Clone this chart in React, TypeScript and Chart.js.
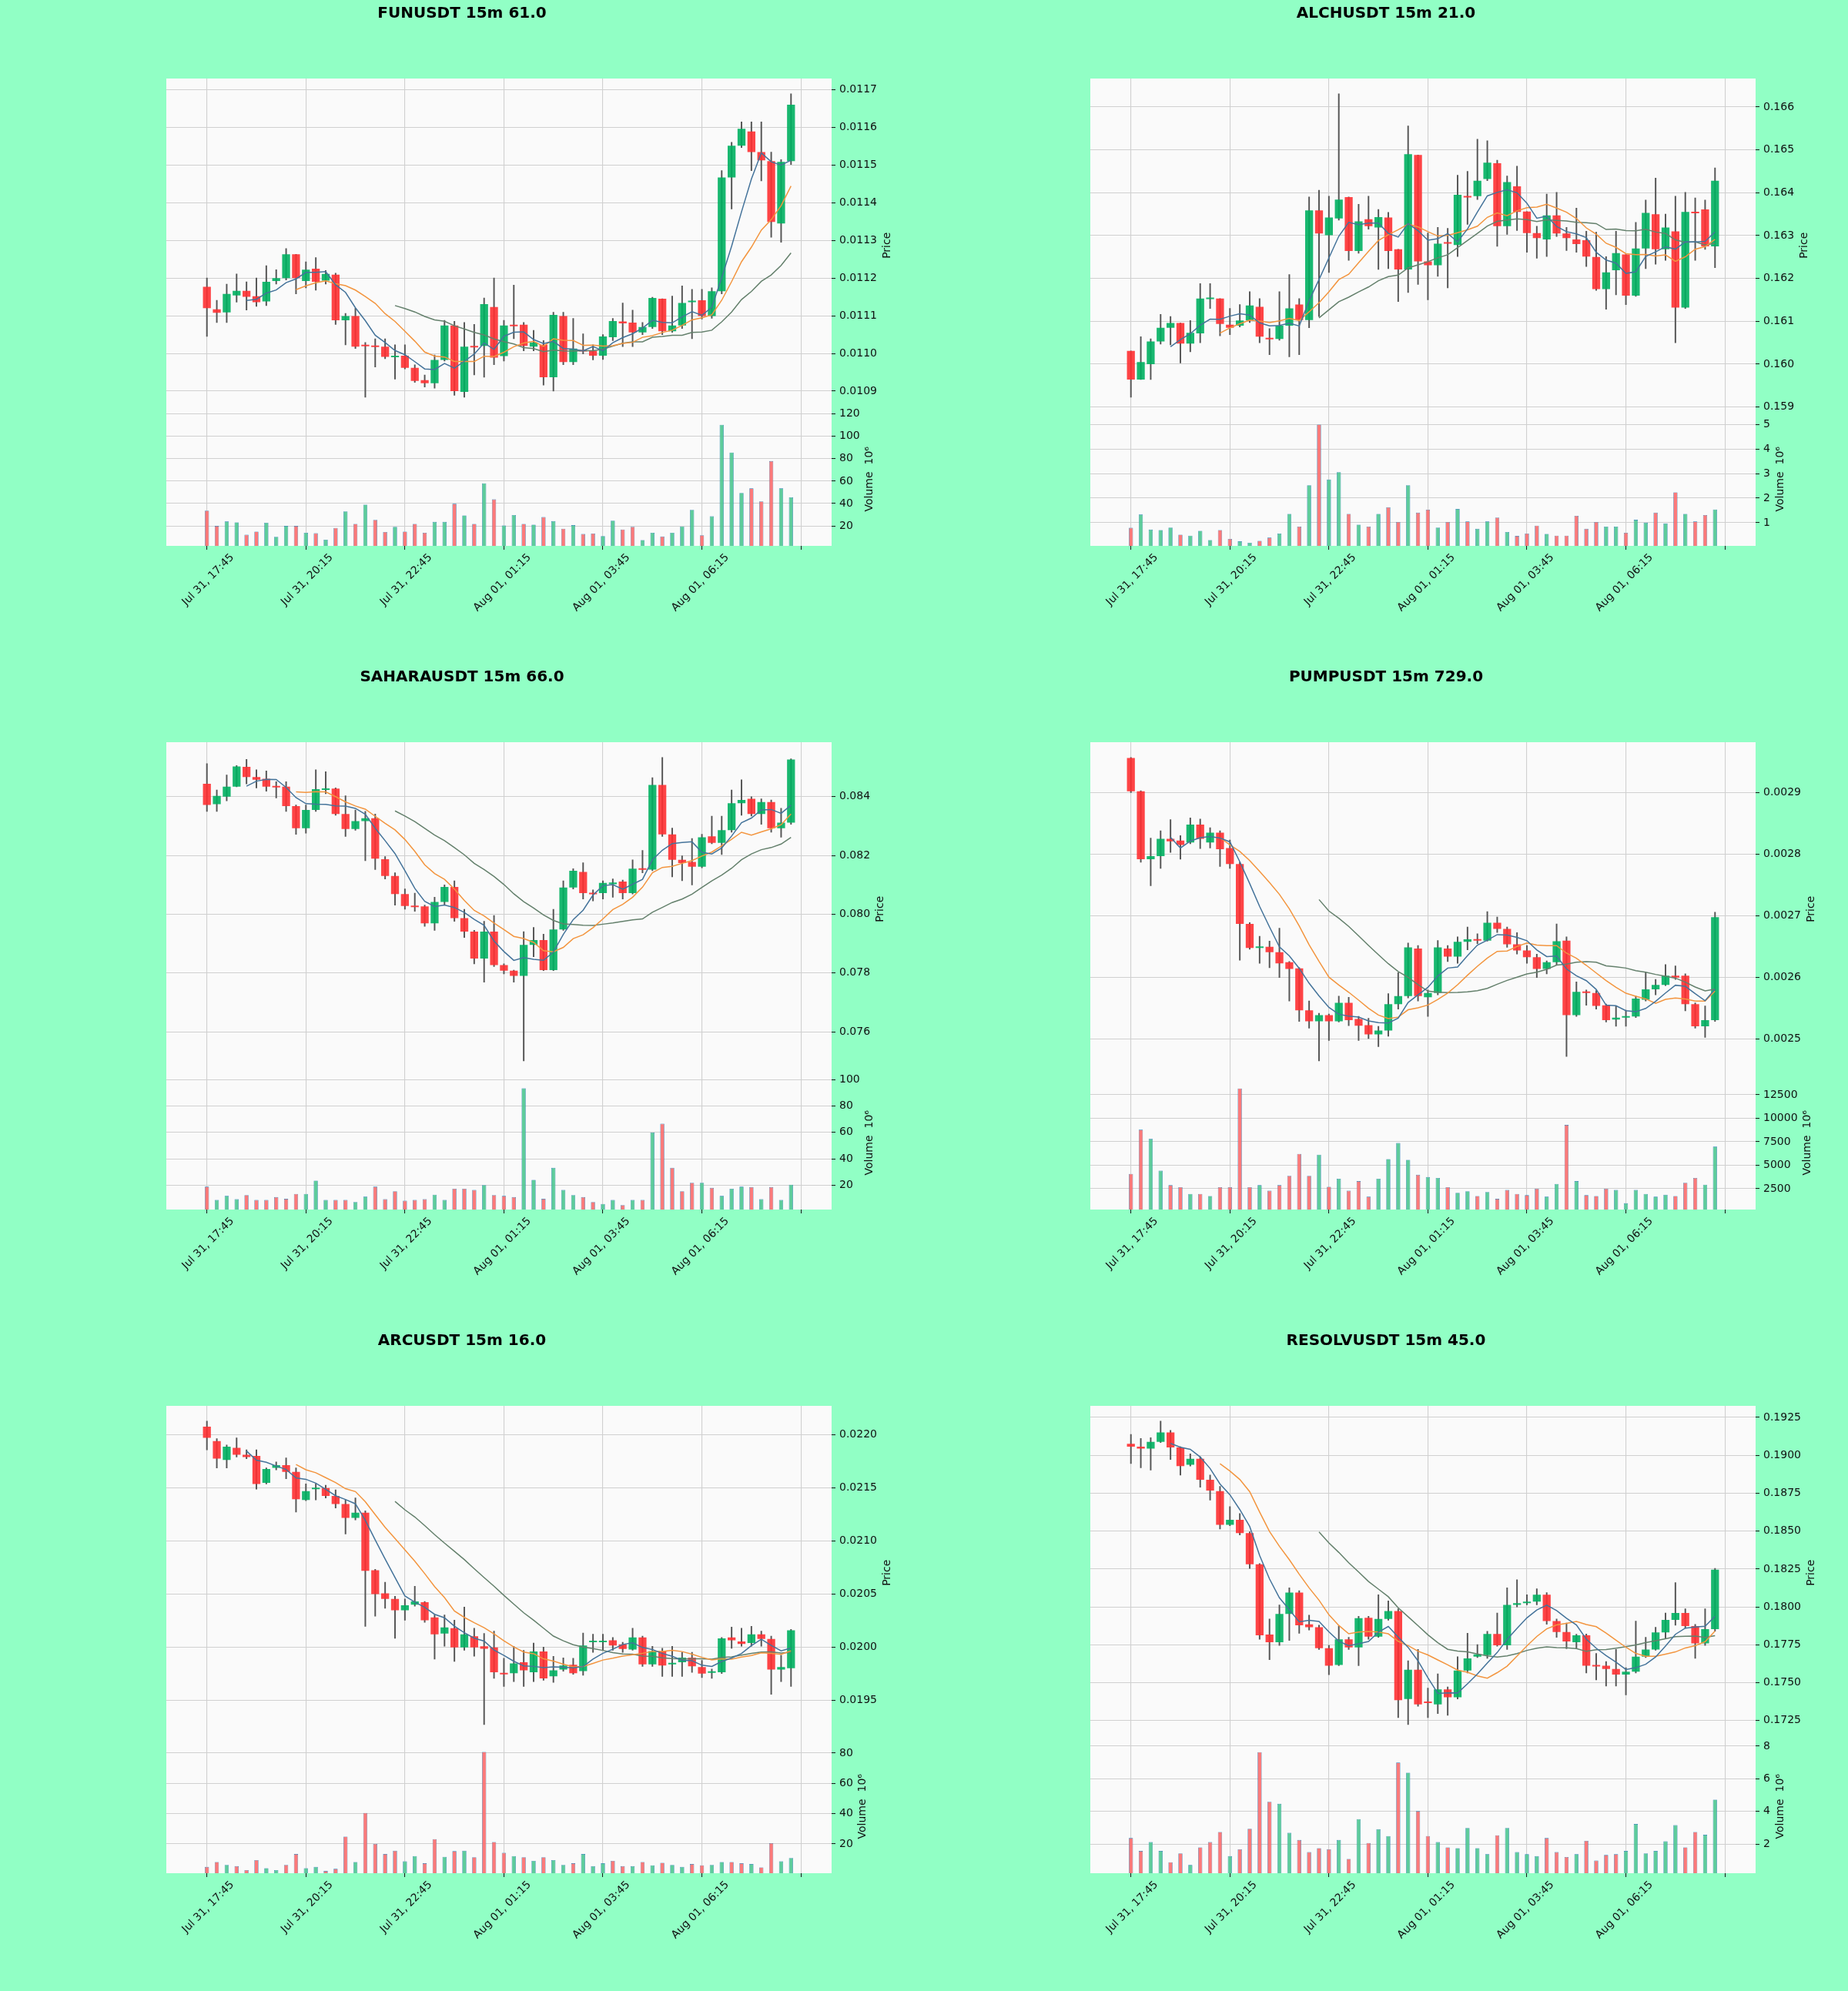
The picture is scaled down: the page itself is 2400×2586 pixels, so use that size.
import React, { useEffect, useRef } from 'react';
import { Chart, registerables } from 'chart.js';

Chart.register(...registerables);

// ---------------- data ----------------
const X_TICK_LABELS = ['Jul 31, 17:45', 'Jul 31, 20:15', 'Jul 31, 22:45', 'Aug 01, 01:15', 'Aug 01, 03:45', 'Aug 01, 06:15'];

// candles: [open, high, low, close]
const FUN_OHLC = [
  [0.011177, 0.011200, 0.011045, 0.011120], [0.011117, 0.011141, 0.011082, 0.011108], [0.011109, 0.011184, 0.011082, 0.011158],
  [0.011154, 0.011211, 0.011136, 0.011166], [0.011166, 0.011190, 0.011115, 0.011150], [0.011152, 0.011200, 0.011125, 0.011136],
  [0.011138, 0.011233, 0.011127, 0.011190], [0.011192, 0.011222, 0.011184, 0.011200], [0.011200, 0.011278, 0.011195, 0.011263],
  [0.011263, 0.011263, 0.011158, 0.011200], [0.011192, 0.011243, 0.011174, 0.011222], [0.011225, 0.011254, 0.011168, 0.011190],
  [0.011193, 0.011220, 0.011184, 0.011211], [0.011209, 0.011213, 0.011077, 0.011088], [0.011088, 0.011106, 0.011023, 0.011099],
  [0.011099, 0.011120, 0.011013, 0.011018], [0.011023, 0.011029, 0.010884, 0.011019], [0.011021, 0.011039, 0.010964, 0.011017],
  [0.011018, 0.011039, 0.010986, 0.010991], [0.010990, 0.011023, 0.010932, 0.010994], [0.010994, 0.011023, 0.010959, 0.010962],
  [0.010962, 0.010970, 0.010923, 0.010927], [0.010929, 0.010943, 0.010911, 0.010921], [0.010921, 0.010996, 0.010908, 0.010983],
  [0.010983, 0.011088, 0.010980, 0.011074], [0.011074, 0.011085, 0.010889, 0.010900], [0.010898, 0.011082, 0.010884, 0.011018],
  [0.011020, 0.011077, 0.010943, 0.011016], [0.011020, 0.011147, 0.010937, 0.011131], [0.011123, 0.011200, 0.010970, 0.010989],
  [0.010993, 0.011088, 0.010980, 0.011074], [0.011076, 0.011181, 0.011039, 0.011072], [0.011076, 0.011082, 0.011007, 0.011020],
  [0.011018, 0.011061, 0.011007, 0.011029], [0.011023, 0.011034, 0.010916, 0.010937], [0.010937, 0.011109, 0.010900, 0.011102],
  [0.011099, 0.011109, 0.010970, 0.010977], [0.010977, 0.011093, 0.010970, 0.011013], [0.011009, 0.011052, 0.010999, 0.011005],
  [0.011007, 0.011023, 0.010983, 0.010994], [0.010994, 0.011050, 0.010984, 0.011045], [0.011043, 0.011093, 0.011034, 0.011086],
  [0.011085, 0.011134, 0.011018, 0.011080], [0.011082, 0.011115, 0.011018, 0.011056], [0.011056, 0.011082, 0.011050, 0.011070],
  [0.011070, 0.011149, 0.011066, 0.011147], [0.011145, 0.011145, 0.011050, 0.011059], [0.011059, 0.011152, 0.011056, 0.011074],
  [0.011074, 0.011179, 0.011066, 0.011134], [0.011136, 0.011170, 0.011039, 0.011140], [0.011141, 0.011170, 0.011091, 0.011099],
  [0.011099, 0.011174, 0.011093, 0.011165], [0.011165, 0.011485, 0.011158, 0.011467], [0.011467, 0.011560, 0.011383, 0.011551],
  [0.011551, 0.011614, 0.011546, 0.011596], [0.011589, 0.011614, 0.011485, 0.011534], [0.011534, 0.011614, 0.011458, 0.011512],
  [0.011510, 0.011534, 0.011308, 0.011349], [0.011345, 0.011514, 0.011295, 0.011508], [0.011510, 0.011689, 0.011501, 0.011660],
];
const FUN_VOLUME = [33.7, 20, 24, 23.2, 12.1, 15, 22.9, 10.3, 20, 20, 13.9, 13.5, 7.8, 18.2, 33, 21.8, 39, 25.4, 14.6, 19.3,
  15, 21.8, 13.9, 23.6, 23.6, 39.8, 29.4, 21.8, 58.1, 43.7, 20.4, 29.7, 21.8, 21.1, 27.9, 24.3, 17.5, 20.7, 12.8, 13.2,
  11, 24.7, 16.8, 19.3, 7.4, 13.9, 10.6, 13.9, 19.6, 34.4, 11.7, 28.6, 110.3, 85.5, 49.5, 53.5, 41.9, 77.9, 53.5, 45.5];
const FUN_VOL_DIR = 'rrggrrgggr' + 'grgrgrgrrg' + 'rrrggrgrgr' + 'ggrgrgrgrr' + 'ggrrggrggg' + 'rggggrrrgg';

const ALCH_OHLC = [
  [0.16031, 0.16031, 0.15923, 0.15964], [0.15964, 0.16064, 0.15964, 0.16005], [0.16000, 0.16059, 0.15964, 0.16053],
  [0.16053, 0.16116, 0.16047, 0.16085], [0.16085, 0.16111, 0.16045, 0.16096], [0.16096, 0.16096, 0.16003, 0.16048],
  [0.16048, 0.16102, 0.16029, 0.16073], [0.16072, 0.16188, 0.16050, 0.16153], [0.16152, 0.16188, 0.16130, 0.16155],
  [0.16153, 0.16153, 0.16066, 0.16094], [0.16092, 0.16130, 0.16069, 0.16085], [0.16090, 0.16139, 0.16087, 0.16102],
  [0.16102, 0.16169, 0.16097, 0.16137], [0.16134, 0.16153, 0.16050, 0.16064], [0.16061, 0.16083, 0.16022, 0.16058],
  [0.16059, 0.16169, 0.16056, 0.16090], [0.16090, 0.16209, 0.16017, 0.16130], [0.16139, 0.16153, 0.16022, 0.16103],
  [0.16103, 0.16390, 0.16085, 0.16359], [0.16359, 0.16406, 0.16111, 0.16305], [0.16301, 0.16392, 0.16214, 0.16342],
  [0.16340, 0.16631, 0.16336, 0.16384], [0.16390, 0.16390, 0.16242, 0.16264], [0.16264, 0.16373, 0.16259, 0.16333],
  [0.16338, 0.16392, 0.16315, 0.16322], [0.16319, 0.16361, 0.16221, 0.16343], [0.16342, 0.16354, 0.16223, 0.16264],
  [0.16268, 0.16268, 0.16146, 0.16221], [0.16221, 0.16556, 0.16167, 0.16490], [0.16488, 0.16488, 0.16186, 0.16240],
  [0.16240, 0.16306, 0.16150, 0.16231], [0.16231, 0.16319, 0.16205, 0.16281], [0.16283, 0.16317, 0.16178, 0.16281],
  [0.16278, 0.16441, 0.16251, 0.16395], [0.16392, 0.16450, 0.16326, 0.16389], [0.16392, 0.16525, 0.16384, 0.16428],
  [0.16432, 0.16521, 0.16428, 0.16470], [0.16469, 0.16476, 0.16275, 0.16322], [0.16322, 0.16439, 0.16303, 0.16425],
  [0.16415, 0.16462, 0.16312, 0.16355], [0.16356, 0.16356, 0.16261, 0.16306], [0.16306, 0.16322, 0.16247, 0.16294],
  [0.16291, 0.16397, 0.16251, 0.16347], [0.16347, 0.16401, 0.16298, 0.16305], [0.16305, 0.16319, 0.16265, 0.16294],
  [0.16291, 0.16364, 0.16261, 0.16280], [0.16289, 0.16310, 0.16228, 0.16251], [0.16250, 0.16308, 0.16172, 0.16175],
  [0.16175, 0.16251, 0.16128, 0.16214], [0.16219, 0.16310, 0.16162, 0.16259], [0.16256, 0.16256, 0.16139, 0.16160],
  [0.16160, 0.16331, 0.16158, 0.16270], [0.16270, 0.16383, 0.16223, 0.16353], [0.16350, 0.16434, 0.16233, 0.16268],
  [0.16268, 0.16350, 0.16242, 0.16319], [0.16310, 0.16392, 0.16050, 0.16132], [0.16132, 0.16401, 0.16130, 0.16355],
  [0.16355, 0.16388, 0.16242, 0.16352], [0.16361, 0.16383, 0.16268, 0.16275], [0.16275, 0.16458, 0.16225, 0.16428],
];
const ALCH_VOLUME = [0.79, 1.33, 0.72, 0.70, 0.80, 0.51, 0.47, 0.67, 0.29, 0.70, 0.34, 0.24, 0.18, 0.26, 0.39, 0.56, 1.36, 0.84, 2.53, 5.0,
  2.76, 3.06, 1.36, 0.92, 0.84, 1.36, 1.63, 1.03, 2.53, 1.41, 1.53, 0.80, 1.03, 1.56, 1.05, 0.75, 1.05, 1.21, 0.62, 0.46,
  0.56, 0.88, 0.54, 0.47, 0.47, 1.28, 0.75, 1.03, 0.84, 0.84, 0.59, 1.12, 1.0, 1.41, 0.97, 2.24, 1.36, 1.05, 1.31, 1.54];
const ALCH_VOL_DIR = 'rggggrgggr' + 'rggrrggrgr' + 'ggrgrgrrgr' + 'rgrgrggrgr' + 'rrgrrrrrgg' + 'rggrgrgrrg';

const SAHARA_OHLC = [
  [0.08444, 0.08513, 0.08350, 0.08372], [0.08375, 0.08423, 0.08350, 0.08403], [0.08400, 0.08474, 0.08386, 0.08434],
  [0.08434, 0.08506, 0.08434, 0.08503], [0.08502, 0.08527, 0.08444, 0.08467], [0.08467, 0.08492, 0.08430, 0.08458],
  [0.08461, 0.08488, 0.08419, 0.08434], [0.08436, 0.08451, 0.08396, 0.08432], [0.08434, 0.08451, 0.08350, 0.08368],
  [0.08368, 0.08372, 0.08272, 0.08293], [0.08293, 0.08372, 0.08276, 0.08355], [0.08355, 0.08492, 0.08350, 0.08426],
  [0.08423, 0.08485, 0.08410, 0.08428], [0.08428, 0.08430, 0.08337, 0.08341], [0.08341, 0.08403, 0.08265, 0.08290],
  [0.08290, 0.08355, 0.08286, 0.08317], [0.08317, 0.08350, 0.08182, 0.08327], [0.08327, 0.08341, 0.08152, 0.08189],
  [0.08187, 0.08196, 0.08120, 0.08130], [0.08130, 0.08141, 0.08031, 0.08069], [0.08069, 0.08086, 0.08017, 0.08028],
  [0.08028, 0.08072, 0.08010, 0.08024], [0.08027, 0.08031, 0.07959, 0.07969], [0.07969, 0.08058, 0.07945, 0.08042],
  [0.08042, 0.08100, 0.08031, 0.08093], [0.08093, 0.08114, 0.07976, 0.07987], [0.07987, 0.08017, 0.07921, 0.07941],
  [0.07941, 0.07945, 0.07831, 0.07849], [0.07849, 0.07976, 0.07769, 0.07941], [0.07941, 0.07996, 0.07822, 0.07827],
  [0.07827, 0.07831, 0.07797, 0.07808], [0.07808, 0.07810, 0.07769, 0.07790], [0.07790, 0.07941, 0.07501, 0.07896],
  [0.07896, 0.07955, 0.07855, 0.07912], [0.07912, 0.07932, 0.07808, 0.07810], [0.07810, 0.08017, 0.07808, 0.07948],
  [0.07948, 0.08114, 0.07945, 0.08091], [0.08091, 0.08155, 0.08086, 0.08148], [0.08144, 0.08175, 0.08052, 0.08072],
  [0.08072, 0.08083, 0.08045, 0.08068], [0.08072, 0.08114, 0.08052, 0.08107], [0.08102, 0.08120, 0.08058, 0.08108],
  [0.08111, 0.08116, 0.08052, 0.08072], [0.08072, 0.08185, 0.08069, 0.08155], [0.08155, 0.08217, 0.08141, 0.08151],
  [0.08152, 0.08465, 0.08148, 0.08440], [0.08440, 0.08534, 0.08265, 0.08272], [0.08272, 0.08293, 0.08127, 0.08185],
  [0.08185, 0.08199, 0.08114, 0.08174], [0.08178, 0.08258, 0.08100, 0.08162], [0.08162, 0.08272, 0.08158, 0.08262],
  [0.08265, 0.08334, 0.08240, 0.08243], [0.08243, 0.08334, 0.08203, 0.08286], [0.08286, 0.08423, 0.08279, 0.08378],
  [0.08378, 0.08458, 0.08337, 0.08389], [0.08393, 0.08400, 0.08334, 0.08341], [0.08341, 0.08393, 0.08306, 0.08382],
  [0.08382, 0.08389, 0.08279, 0.08293], [0.08293, 0.08361, 0.08262, 0.08312], [0.08312, 0.08529, 0.08306, 0.08527],
];
const SAHARA_VOLUME = [18.8, 8.7, 11.8, 9.3, 12.4, 8.7, 8.7, 10.9, 9.6, 13.3, 13.3, 23.4, 8.7, 8.7, 8.7, 7.2, 11.2, 18.8, 9.3, 15.4,
  8.1, 8.7, 9.3, 12.7, 8.7, 17.3, 17.3, 16.3, 20, 12.4, 11.8, 10.9, 93.5, 24, 9.6, 33.1, 16.3, 12.4, 10.9, 7.2,
  5.7, 8.7, 4.8, 8.7, 8.7, 59.9, 66.6, 33.1, 15.4, 21.8, 21.8, 17.9, 11.8, 17.3, 18.8, 18.5, 9.3, 18.5, 8.7, 20.3];
const SAHARA_VOL_DIR = 'rgggrrrrrr' + 'gggrrggrrr' + 'rrrggrrrgr' + 'rrggrgggrr' + 'ggrgrgrrrr' + 'grgggrgrgg';

const PUMP_OHLC = [
  [0.002956, 0.002957, 0.002900, 0.002902], [0.002902, 0.002903, 0.002787, 0.002792], [0.002792, 0.002826, 0.002749, 0.002797],
  [0.002797, 0.002838, 0.002777, 0.002825], [0.002825, 0.002856, 0.002803, 0.002821], [0.002822, 0.002830, 0.002792, 0.002815],
  [0.002819, 0.002859, 0.002817, 0.002848], [0.002848, 0.002857, 0.002809, 0.002825], [0.002819, 0.002843, 0.002810, 0.002835],
  [0.002835, 0.002838, 0.002780, 0.002808], [0.002810, 0.002823, 0.002777, 0.002784], [0.002784, 0.002787, 0.002628, 0.002687],
  [0.002687, 0.002689, 0.002646, 0.002648], [0.002648, 0.002667, 0.002623, 0.002650], [0.002650, 0.002659, 0.002616, 0.002641],
  [0.002641, 0.002680, 0.002600, 0.002623], [0.002625, 0.002626, 0.002562, 0.002614], [0.002615, 0.002616, 0.002529, 0.002547],
  [0.002547, 0.002562, 0.002518, 0.002529], [0.002529, 0.002542, 0.002465, 0.002539], [0.002539, 0.002541, 0.002498, 0.002529],
  [0.002529, 0.002570, 0.002528, 0.002559], [0.002559, 0.002568, 0.002522, 0.002531], [0.002533, 0.002537, 0.002498, 0.002522],
  [0.002523, 0.002534, 0.002501, 0.002508], [0.002508, 0.002521, 0.002488, 0.002514], [0.002514, 0.002574, 0.002505, 0.002557],
  [0.002557, 0.002608, 0.002549, 0.002570], [0.002570, 0.002656, 0.002567, 0.002649], [0.002647, 0.002652, 0.002562, 0.002570],
  [0.002568, 0.002580, 0.002537, 0.002575], [0.002575, 0.002660, 0.002572, 0.002649], [0.002647, 0.002652, 0.002626, 0.002634],
  [0.002634, 0.002666, 0.002623, 0.002658], [0.002658, 0.002682, 0.002645, 0.002662], [0.002662, 0.002671, 0.002655, 0.002660],
  [0.002660, 0.002707, 0.002659, 0.002689], [0.002689, 0.002698, 0.002673, 0.002679], [0.002679, 0.002682, 0.002649, 0.002654],
  [0.002654, 0.002673, 0.002638, 0.002644], [0.002644, 0.002652, 0.002623, 0.002633], [0.002633, 0.002638, 0.002600, 0.002614],
  [0.002614, 0.002627, 0.002606, 0.002625], [0.002625, 0.002687, 0.002620, 0.002659], [0.002660, 0.002666, 0.002472, 0.002539],
  [0.002539, 0.002593, 0.002537, 0.002577], [0.002577, 0.002580, 0.002555, 0.002575], [0.002575, 0.002579, 0.002549, 0.002554],
  [0.002555, 0.002557, 0.002528, 0.002531], [0.002532, 0.002554, 0.002521, 0.002535], [0.002535, 0.002547, 0.002521, 0.002537],
  [0.002537, 0.002570, 0.002535, 0.002566], [0.002564, 0.002608, 0.002562, 0.002581], [0.002581, 0.002597, 0.002572, 0.002588],
  [0.002588, 0.002621, 0.002587, 0.002603], [0.002603, 0.002619, 0.002597, 0.002600], [0.002603, 0.002606, 0.002546, 0.002557],
  [0.002557, 0.002559, 0.002518, 0.002521], [0.002521, 0.002554, 0.002503, 0.002531], [0.002531, 0.002706, 0.002529, 0.002698],
];
const PUMP_VOLUME = [4080, 8780, 7800, 4420, 2880, 2670, 1945, 1945, 1730, 2670, 2670, 13175, 2670, 2880, 2290, 2880, 3870, 6210, 3870, 6130,
  2710, 3570, 2290, 3310, 1650, 3570, 5660, 7370, 5570, 3990, 3740, 3650, 2670, 2070, 2240, 1730, 2160, 1430, 2370, 1945,
  1820, 2500, 1650, 3010, 9290, 3310, 1820, 1730, 2500, 2370, 960, 2370, 1945, 1650, 1860, 1730, 3140, 3650, 2930, 6980];
const PUMP_VOL_DIR = 'rrggrrgrgr' + 'rrrgrrrrrg' + 'rgrrrggggr' + 'ggrggrgrrr' + 'rrggrgrrrg' + 'gggggrrrgg';

const ARC_OHLC = [
  [0.022075, 0.022128, 0.021857, 0.021970], [0.021940, 0.021962, 0.021687, 0.021774], [0.021762, 0.021902, 0.021687, 0.021887],
  [0.021876, 0.021970, 0.021789, 0.021811], [0.021811, 0.021857, 0.021774, 0.021789], [0.021800, 0.021857, 0.021487, 0.021536],
  [0.021547, 0.021687, 0.021536, 0.021676], [0.021687, 0.021744, 0.021668, 0.021713], [0.021713, 0.021781, 0.021585, 0.021649],
  [0.021649, 0.021687, 0.021272, 0.021393], [0.021385, 0.021536, 0.021378, 0.021468], [0.021487, 0.021536, 0.021385, 0.021495],
  [0.021498, 0.021525, 0.021404, 0.021423], [0.021423, 0.021480, 0.021310, 0.021348], [0.021348, 0.021385, 0.021065, 0.021216],
  [0.021216, 0.021404, 0.021197, 0.021265], [0.021265, 0.021284, 0.020197, 0.020718], [0.020725, 0.020733, 0.020292, 0.020499],
  [0.020507, 0.020612, 0.020367, 0.020454], [0.020454, 0.020480, 0.020084, 0.020348], [0.020348, 0.020454, 0.020254, 0.020394],
  [0.020401, 0.020574, 0.020386, 0.020431], [0.020424, 0.020431, 0.020235, 0.020254], [0.020280, 0.020303, 0.019888, 0.020122],
  [0.020129, 0.020303, 0.020009, 0.020186], [0.020179, 0.020254, 0.019866, 0.019998], [0.019998, 0.020378, 0.019971, 0.020122],
  [0.020104, 0.020179, 0.019915, 0.019998], [0.020009, 0.020130, 0.019273, 0.019986], [0.019998, 0.020152, 0.019707, 0.019764],
  [0.019760, 0.019896, 0.019632, 0.019745], [0.019756, 0.020009, 0.019677, 0.019847], [0.019858, 0.019971, 0.019632, 0.019783],
  [0.019764, 0.020039, 0.019677, 0.019960], [0.019960, 0.020001, 0.019689, 0.019707], [0.019726, 0.019915, 0.019670, 0.019783],
  [0.019790, 0.019900, 0.019775, 0.019828], [0.019836, 0.019896, 0.019745, 0.019756], [0.019775, 0.020133, 0.019737, 0.020016],
  [0.020047, 0.020122, 0.019952, 0.020058], [0.020047, 0.020122, 0.019971, 0.020058], [0.020065, 0.020092, 0.019971, 0.020016],
  [0.020028, 0.020047, 0.019952, 0.019983], [0.019979, 0.020179, 0.019971, 0.020092], [0.020092, 0.020104, 0.019820, 0.019839],
  [0.019839, 0.020009, 0.019820, 0.019964], [0.019964, 0.019990, 0.019726, 0.019828], [0.019839, 0.020009, 0.019726, 0.019851],
  [0.019858, 0.019952, 0.019726, 0.019903], [0.019903, 0.019952, 0.019764, 0.019820], [0.019813, 0.019877, 0.019715, 0.019752],
  [0.019760, 0.019794, 0.019707, 0.019771], [0.019764, 0.020092, 0.019752, 0.020084], [0.020092, 0.020190, 0.019990, 0.020065],
  [0.020054, 0.020179, 0.020009, 0.020031], [0.020039, 0.020197, 0.020009, 0.020122], [0.020122, 0.020152, 0.020009, 0.020077],
  [0.020077, 0.020104, 0.019556, 0.019790], [0.019790, 0.019926, 0.019677, 0.019813], [0.019802, 0.020167, 0.019632, 0.020160],
];
const ARC_VOLUME = [4.8, 8, 6.1, 5.3, 2.7, 9.3, 4, 2.7, 6.1, 13.3, 4, 4.8, 2.1, 3.5, 24.8, 8, 40.5, 20, 13.3, 15.5,
  8.5, 12, 7.2, 23.2, 11.5, 15.2, 15.5, 11.2, 80.8, 21.3, 14.1, 12, 11.2, 8.8, 11.2, 9.3, 6.1, 7.2, 13.3, 5.3,
  7.2, 8.8, 5.3, 5.3, 8, 5.9, 7.5, 6.1, 4.8, 6.7, 5.9, 6.1, 8, 8, 7.2, 6.7, 4.5, 20.5, 8.5, 10.7];
const ARC_VOL_DIR = 'rrgrrrggrr' + 'ggrrrgrrrr' + 'ggrrgrgrrr' + 'rgrgrggrgg' + 'grrgrgrggr' + 'rggrrgrrgg';

const RESOLV_OHLC = [
  [0.19076, 0.19138, 0.18945, 0.19057], [0.19057, 0.19111, 0.18918, 0.19044], [0.19044, 0.19116, 0.18902, 0.19089],
  [0.19089, 0.19226, 0.19084, 0.19151], [0.19151, 0.19164, 0.18972, 0.19052], [0.19052, 0.19057, 0.18870, 0.18929],
  [0.18937, 0.19009, 0.18929, 0.18977], [0.18977, 0.18990, 0.18790, 0.18838], [0.18838, 0.18870, 0.18704, 0.18768],
  [0.18763, 0.18795, 0.18514, 0.18541], [0.18541, 0.18661, 0.18535, 0.18575], [0.18575, 0.18616, 0.18474, 0.18487],
  [0.18487, 0.18495, 0.18254, 0.18281], [0.18281, 0.18286, 0.17786, 0.17812], [0.17818, 0.17920, 0.17652, 0.17767],
  [0.17767, 0.18013, 0.17746, 0.17954], [0.17954, 0.18126, 0.17778, 0.18094], [0.18094, 0.18107, 0.17826, 0.17879],
  [0.17885, 0.17946, 0.17847, 0.17866], [0.17866, 0.17879, 0.17719, 0.17727], [0.17727, 0.17746, 0.17553, 0.17612],
  [0.17617, 0.17874, 0.17612, 0.17786], [0.17786, 0.17799, 0.17719, 0.17732], [0.17732, 0.17938, 0.17612, 0.17925],
  [0.17928, 0.17938, 0.17786, 0.17804], [0.17804, 0.18080, 0.17799, 0.17920], [0.17920, 0.18040, 0.17912, 0.17973],
  [0.17973, 0.17987, 0.17269, 0.17384], [0.17392, 0.17644, 0.17224, 0.17585], [0.17585, 0.17719, 0.17344, 0.17357],
  [0.17376, 0.17464, 0.17269, 0.17365], [0.17357, 0.17558, 0.17296, 0.17456], [0.17456, 0.17472, 0.17285, 0.17403],
  [0.17403, 0.17671, 0.17392, 0.17580], [0.17580, 0.17826, 0.17564, 0.17660], [0.17671, 0.17751, 0.17666, 0.17687],
  [0.17682, 0.17839, 0.17660, 0.17821], [0.17821, 0.17960, 0.17740, 0.17746], [0.17746, 0.18126, 0.17719, 0.18013],
  [0.18013, 0.18179, 0.18000, 0.18024], [0.18024, 0.18080, 0.18013, 0.18035], [0.18035, 0.18120, 0.18013, 0.18080],
  [0.18080, 0.18094, 0.17885, 0.17906], [0.17906, 0.17920, 0.17799, 0.17834], [0.17834, 0.17893, 0.17724, 0.17772],
  [0.17767, 0.17820, 0.17724, 0.17812], [0.17812, 0.17821, 0.17564, 0.17612], [0.17617, 0.17693, 0.17518, 0.17607],
  [0.17612, 0.17639, 0.17478, 0.17590], [0.17590, 0.17719, 0.17478, 0.17553], [0.17553, 0.17599, 0.17419, 0.17572],
  [0.17572, 0.17906, 0.17564, 0.17671], [0.17671, 0.17799, 0.17666, 0.17719], [0.17719, 0.17866, 0.17714, 0.17831],
  [0.17831, 0.17960, 0.17794, 0.17914], [0.17914, 0.18160, 0.17879, 0.17960], [0.17960, 0.17987, 0.17858, 0.17874],
  [0.17874, 0.17885, 0.17660, 0.17759], [0.17759, 0.17987, 0.17746, 0.17853], [0.17853, 0.18254, 0.17839, 0.18246],
];
const RESOLV_VOLUME = [2.37, 1.58, 2.12, 1.58, 0.89, 1.43, 0.72, 1.80, 2.12, 2.74, 1.26, 1.68, 2.94, 7.63, 4.59, 4.47, 2.69, 2.25, 1.51, 1.75,
  1.68, 2.25, 1.09, 3.53, 2.07, 2.91, 2.49, 6.99, 6.37, 4.02, 2.49, 2.12, 1.80, 1.75, 2.99, 1.75, 1.38, 2.54, 2.99, 1.51,
  1.38, 1.26, 2.37, 1.51, 1.21, 1.38, 2.20, 0.99, 1.33, 1.38, 1.58, 3.23, 1.43, 1.58, 2.17, 3.16, 1.80, 2.74, 2.57, 4.72];
const RESOLV_VOL_DIR = 'rrggrrgrrr' + 'grrrrggrrr' + 'rgrgrggrgr' + 'rgrggggrgg' + 'ggrrrgrrrr' + 'ggggggrrgg';

const MA_WINDOWS = [5, 10, 20];

// ---------------- style ----------------
const FIG_BG = '#91ffc5';
const PANEL_BG = '#fafafa';
const GRID = '#d0d0d0';
const TEXT = '#101010';
const UP = 'rgba(0,176,96,0.9)';
const DOWN = 'rgba(254,48,50,0.9)';
const WICK = '#555555';
const VOL_UP = 'rgba(77,199,144,0.9)';
const VOL_DOWN = 'rgba(253,107,108,0.9)';
const VOL_EDGE = '#1f77b4';
const MA_COLORS = ['#44739a', '#f3953f', '#64806c'];
const FONT = "'DejaVu Sans', sans-serif";
const CELL_W = 1200;
const CELL_H = 862;
const TICK_LEN = 5;
const TICK_PAD = 5;

type Spec = {
  title: string; ohlc: number[][]; volume: number[]; volDir: string;
  priceStep: number; priceDecimals: number; volStep: number;
};

const SPECS: Spec[] = [
  { title: 'FUNUSDT 15m 61.0', ohlc: FUN_OHLC, volume: FUN_VOLUME, volDir: FUN_VOL_DIR, priceStep: 0.0001, priceDecimals: 4, volStep: 20 },
  { title: 'ALCHUSDT 15m 21.0', ohlc: ALCH_OHLC, volume: ALCH_VOLUME, volDir: ALCH_VOL_DIR, priceStep: 0.001, priceDecimals: 3, volStep: 1 },
  { title: 'SAHARAUSDT 15m 66.0', ohlc: SAHARA_OHLC, volume: SAHARA_VOLUME, volDir: SAHARA_VOL_DIR, priceStep: 0.002, priceDecimals: 3, volStep: 20 },
  { title: 'PUMPUSDT 15m 729.0', ohlc: PUMP_OHLC, volume: PUMP_VOLUME, volDir: PUMP_VOL_DIR, priceStep: 0.0001, priceDecimals: 4, volStep: 2500 },
  { title: 'ARCUSDT 15m 16.0', ohlc: ARC_OHLC, volume: ARC_VOLUME, volDir: ARC_VOL_DIR, priceStep: 0.0005, priceDecimals: 4, volStep: 20 },
  { title: 'RESOLVUSDT 15m 45.0', ohlc: RESOLV_OHLC, volume: RESOLV_VOLUME, volDir: RESOLV_VOL_DIR, priceStep: 0.0025, priceDecimals: 4, volStep: 2 },
];

function movingAverage(values: number[], w: number): (number | null)[] {
  return values.map((_, i) => {
    if (i < w - 1) return null;
    let s = 0;
    for (let k = i - w + 1; k <= i; k++) s += values[k];
    return s / w;
  });
}

function stepTicks(min: number, max: number, step: number) {
  const out: { value: number }[] = [];
  const a = Math.ceil(min / step - 1e-9);
  const b = Math.floor(max / step + 1e-9);
  for (let k = a; k <= b; k++) out.push({ value: +(k * step).toFixed(10) });
  return out;
}

const panelBgPlugin = {
  id: 'panelBg',
  beforeDraw(chart: any) {
    const { ctx, chartArea: a } = chart;
    ctx.save();
    ctx.fillStyle = PANEL_BG;
    ctx.fillRect(a.left, a.top, a.right - a.left, a.bottom - a.top);
    ctx.restore();
  },
};

const axisTitlePlugin = {
  id: 'axisTitles',
  afterDraw(chart: any) {
    const ctx = chart.ctx;
    const items: [string, string][] = [['y', 'Price'], ['yv', 'Volume  10\u2076']];
    ctx.save();
    ctx.font = `14px ${FONT}`;
    for (const [id, text] of items) {
      const sc = chart.scales[id];
      let w = 0;
      for (const t of sc.ticks) w = Math.max(w, ctx.measureText(String(t.label ?? '')).width);
      const x = sc.left + TICK_LEN + TICK_PAD + w + 6;
      const y = (sc.top + sc.bottom) / 2;
      ctx.save();
      ctx.translate(x, y);
      ctx.rotate(-Math.PI / 2);
      ctx.textAlign = 'center';
      ctx.textBaseline = 'top';
      ctx.fillStyle = TEXT;
      ctx.fillText(text, 0, 0);
      ctx.restore();
    }
    ctx.restore();
  },
};

function CandleChart({ spec }: { spec: Spec }) {
  const ref = useRef<HTMLCanvasElement>(null);
  useEffect(() => {
    if (!ref.current) return;
    const ohlc = spec.ohlc;
    const n = ohlc.length;
    const lows = ohlc.map((c) => c[2]);
    const highs = ohlc.map((c) => c[1]);
    const closes = ohlc.map((c) => c[3]);
    const lo = Math.min(...lows);
    const hi = Math.max(...highs);
    const pad = 0.05 * (hi - lo);
    const yMin = lo - pad;
    const yMax = hi + pad;
    const vMin = 0.3 * Math.min(...spec.volume);
    const vMax = 1.1 * Math.max(...spec.volume);
    const xPad = 4.1;

    const bodies = ohlc.map((c, i) => ({ x: i, y: [c[0], c[3]] }));
    const wicks = ohlc.map((c, i) => ({ x: i, y: [c[2], c[1]] }));
    const bodyColors = ohlc.map((c) => (c[3] >= c[0] ? UP : DOWN));
    const vols = spec.volume.map((v, i) => ({ x: i, y: v }));
    const volColors = spec.volDir.split('').map((d) => (d === 'g' ? VOL_UP : VOL_DOWN));
    const maSets = MA_WINDOWS.map((w, k) => ({
      type: 'line' as const,
      label: `MA${w}`,
      data: movingAverage(closes, w).map((v, i) => ({ x: i, y: v })),
      yAxisID: 'y',
      borderColor: MA_COLORS[k],
      borderWidth: 1.5,
      pointRadius: 0,
      tension: 0,
      fill: false,
      order: 0,
    }));

    const gridOpts = { color: GRID, lineWidth: 1.1, tickLength: TICK_LEN, tickColor: TEXT, tickWidth: 1, offset: false };

    const chart = new Chart(ref.current, {
      type: 'bar',
      data: {
        datasets: [
          ...maSets,
          {
            type: 'bar', label: 'wick', data: wicks as any, yAxisID: 'y',
            backgroundColor: WICK, barThickness: 1.3, grouped: false, order: 2,
          },
          {
            type: 'bar', label: 'body', data: bodies as any, yAxisID: 'y',
            backgroundColor: bodyColors, borderWidth: 0, borderSkipped: false,
            barPercentage: 0.8, categoryPercentage: 1, grouped: false, minBarLength: 2, order: 1,
          },
          {
            type: 'bar', label: 'volume', data: vols as any, yAxisID: 'yv',
            backgroundColor: volColors, borderColor: VOL_EDGE, borderWidth: 0.6, borderSkipped: false,
            barPercentage: 0.42, categoryPercentage: 1, grouped: false, order: 1,
          },
        ] as any,
      },
      options: {
        animation: false,
        responsive: false,
        devicePixelRatio: 1,
        events: [],
        layout: { padding: { left: 216, right: 20, top: 102, bottom: 0 } },
        plugins: { legend: { display: false }, tooltip: { enabled: false }, title: { display: false } },
        scales: {
          x: {
            type: 'linear',
            offset: false,
            min: -xPad,
            max: n - 1 + xPad,
            border: { display: false },
            grid: gridOpts,
            afterBuildTicks: (s: any) => { s.ticks = stepTicks(0, n, 10); },
            afterFit: (s: any) => { s.height = CELL_H - 709; },
            ticks: {
              autoSkip: false,
              maxRotation: 45,
              minRotation: 45,
              labelOffset: 33,
              padding: 2,
              color: TEXT,
              font: { family: FONT, size: 14 },
              callback: (v: any) => {
                const k = Math.round(Number(v) / 10);
                return k < X_TICK_LABELS.length ? X_TICK_LABELS[k] : '';
              },
            },
          },
          y: {
            type: 'linear',
            position: 'right',
            stack: 'panels',
            stackWeight: 5,
            min: yMin,
            max: yMax,
            border: { display: false },
            grid: gridOpts,
            afterBuildTicks: (s: any) => { s.ticks = stepTicks(yMin, yMax, spec.priceStep); },
            afterFit: (s: any) => { s.width = 100; },
            ticks: {
              padding: TICK_PAD,
              color: TEXT,
              font: { family: FONT, size: 14 },
              callback: (v: any) => Number(v).toFixed(spec.priceDecimals),
            },
          },
          yv: {
            type: 'linear',
            position: 'right',
            stack: 'panels',
            stackWeight: 2,
            min: vMin,
            max: vMax,
            border: { display: false },
            grid: gridOpts,
            afterBuildTicks: (s: any) => { s.ticks = stepTicks(vMin, vMax, spec.volStep); },
            afterFit: (s: any) => { s.width = 100; },
            ticks: {
              padding: TICK_PAD,
              color: TEXT,
              font: { family: FONT, size: 14 },
              callback: (v: any) => String(Math.round(Number(v))),
            },
          },
        },
      } as any,
      plugins: [panelBgPlugin, axisTitlePlugin],
    });
    return () => chart.destroy();
  }, [spec]);
  return (
    <canvas
      ref={ref}
      width={CELL_W}
      height={CELL_H}
      style={{ position: 'absolute', left: 0, top: 0, width: CELL_W, height: CELL_H, display: 'block' }}
    />
  );
}

function Cell({ spec, left, top }: { spec: Spec; left: number; top: number }) {
  return (
    <div style={{ position: 'absolute', left, top, width: CELL_W, height: CELL_H }}>
      <CandleChart spec={spec} />
      <div
        style={{
          position: 'absolute', left: 0, top: 4, width: CELL_W, textAlign: 'center',
          fontFamily: FONT, fontWeight: 'bold', fontSize: 20, lineHeight: '24px', color: '#000',
        }}
      >
        {spec.title}
      </div>
    </div>
  );
}

export default function App() {
  return (
    <div style={{ position: 'absolute', left: 0, top: 0, width: 2 * CELL_W, height: 3 * CELL_H, background: FIG_BG, overflow: 'hidden' }}>
      {SPECS.map((s, i) => (
        <Cell key={s.title} spec={s} left={(i % 2) * CELL_W} top={Math.floor(i / 2) * CELL_H} />
      ))}
    </div>
  );
}
